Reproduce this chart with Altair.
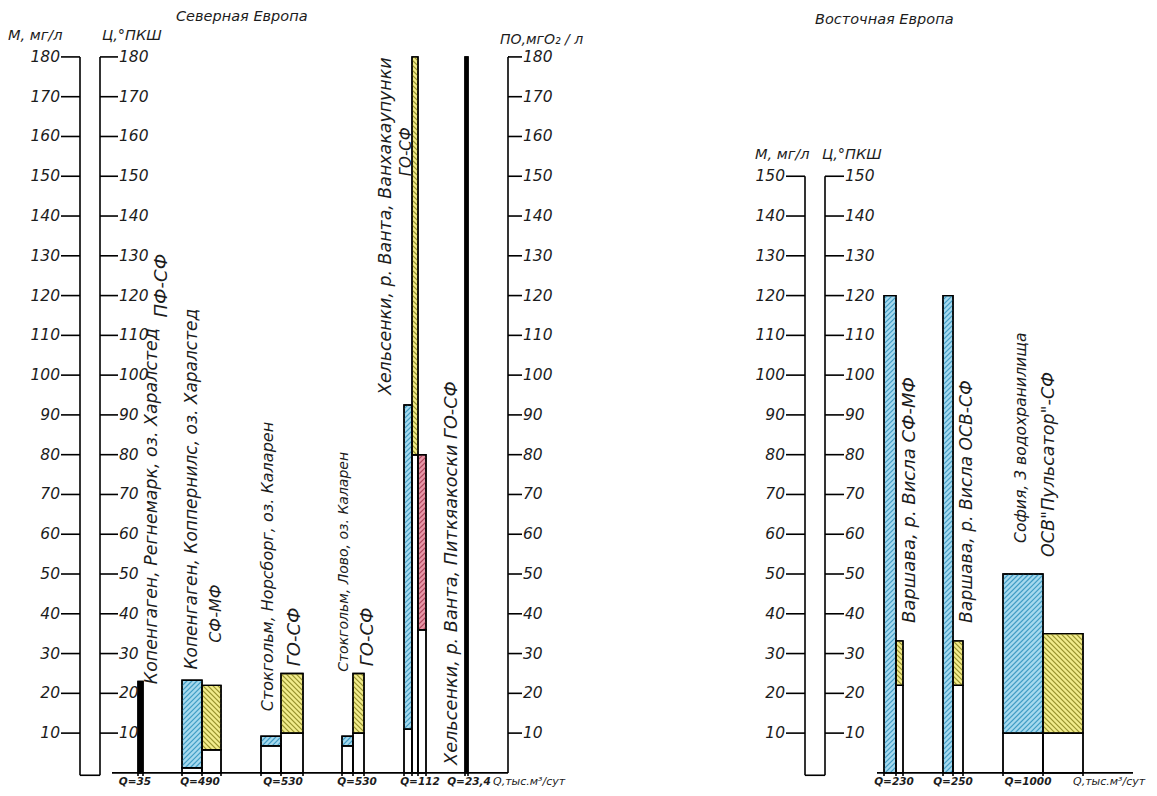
import altair as alt
import pandas as pd

# ---------------- data ----------------
stations = ["Копенгаген, Регнемарк", "Копенгаген, Коппернилс", "Стокгольм, Норсборг",
            "Стокгольм, Лово", "Хельсенки, Ванхакаупунки", "Хельсенки, Питкяакоски",
            "Варшава, СФ-МФ", "Варшава, ОСВ-СФ", "София"]
q_labels = ["Q=35", "Q=490", "Q=530", "Q=530", "Q=112", "Q=23,4", "Q=230", "Q=250", "Q=1000"]
# М, мг/л (blue hatched)
m_low = [None, 1.3, 6.8, 6.8, 11.0, None, 0.0, 0.0, 10.0]
m_high = [None, 23.3, 9.2, 9.2, 92.5, None, 120.0, 120.0, 50.0]
# Ц, °ПКШ (yellow hatched)
c_low = [None, 5.8, 10.0, 10.0, 80.0, None, 22.0, 22.0, 10.0]
c_high = [None, 22.0, 25.0, 25.0, 180.0, None, 33.2, 33.2, 35.0]
# ПО, мгО2/л (red hatched)
po_low = [None, None, None, None, 36.0, None, None, None, None]
po_high = [None, None, None, None, 80.0, None, None, None, None]
# single black columns
single_high = [23.0, None, None, None, None, 180.0, None, None, None]

label_lines = ["Копенгаген, Регнемарк, оз. Харалстед", "ПФ-СФ",
               "Копенгаген, Коппернилс, оз. Харалстед", "СФ-МФ",
               "Стокгольм, Норсборг, оз. Каларен", "ГО-СФ",
               "Стокгольм, Лово, оз. Каларен", "ГО-СФ",
               "Хельсенки, р. Ванта, Ванхакаупунки", "ГО-СФ",
               "Хельсенки, р. Ванта, Питкяакоски  ГО-СФ",
               "Варшава, р. Висла СФ-МФ", "Варшава, р. Висла ОСВ-СФ",
               "София, 3 водохранилища", "ОСВ\"Пульсатор\"-СФ"]

left_ticks = list(range(10, 190, 10))
right_ticks = list(range(10, 160, 10))
panel_titles = ["Северная Европа", "Восточная Европа"]
axis_titles = ["М, мг/л", "Ц,°ПКШ", "ПО,мгО₂ / л", "М, мг/л", "Ц,°ПКШ"]
q_unit = "Q,тыс.м³/сут"

# ---------------- layout (positions / styles only) ----------------
W, H = 1141, 780
XDOM = [8, 8 + W]
YDOM = [-3.8, 192.3]
K = H / (YDOM[1] - YDOM[0])  # px per unit of y
FONT = "DejaVu Sans"
BLUE, BLUE_H = "#a6d9ee", "#3f9cc4"
YEL, YEL_H = "#f1ec8c", "#97912c"
RED, RED_H = "#e796a6", "#b0445c"

col_m = [None, (182, 202), (261, 281), (342, 353), (404, 412), None, (884, 896), (943, 953), (1003, 1043)]
col_c = [None, (202, 221), (281, 303), (353, 364), (412, 418), None, (896, 903), (953, 963), (1043, 1083)]
col_po = [None, None, None, None, (418, 426), None, None, None, None]
col_single = [(138, 143), None, None, None, None, (465, 468), None, None, None]
q_x = [135, 200, 283, 357, 420, 469, 894, 953, 1028]
label_pos = [(152, 22.3, 17.4), (162, 114.5, 18), (192, 26.0, 17), (216, 32.7, 16),
             (268, 15.5, 16), (295, 26.8, 18), (344, 25.4, 14), (368, 26.8, 18),
             (386, 95.0, 17.4), (406, 150.0, 15), (452, 2.0, 17.7), (910, 37.7, 18),
             (967, 37.7, 17.2), (1021, 57.8, 15.6), (1049, 54.3, 17.5)]
Q_Y = -3.5  # bottom edge of the Q labels


def X(f):
    return alt.X(f"{f}:Q", scale=alt.Scale(domain=XDOM, nice=False, zero=False), axis=None)


def Y(f):
    return alt.Y(f"{f}:Q", scale=alt.Scale(domain=YDOM, nice=False, zero=False), axis=None)


# ---------------- bars ----------------
rects, hatches = [], []


def hatch(x1, x2, v1, v2, kind, direction, step=5.0):
    Y1, Y2 = v1 * K, v2 * K
    out = []
    if direction == "/":
        c = (int((Y1 - x2) // step)) * step
        while c <= Y2 - x1:
            xa, xb = max(x1, Y1 - c), min(x2, Y2 - c)
            if xb > xa:
                out.append(dict(x=xa, y=(xa + c) / K, x2=xb, y2=(xb + c) / K, kind=kind))
            c += step
    else:
        c = (int((Y1 + x1) // step)) * step
        while c <= Y2 + x2:
            xa, xb = max(x1, c - Y2), min(x2, c - Y1)
            if xb > xa:
                out.append(dict(x=xa, y=(c - xa) / K, x2=xb, y2=(c - xb) / K, kind=kind))
            c += step
    return out


for i in range(len(stations)):
    for lows, highs, cols, kind, d in [(m_low, m_high, col_m, "M", "/"),
                                        (c_low, c_high, col_c, "C", "\\"),
                                        (po_low, po_high, col_po, "PO", "/")]:
        if highs[i] is None:
            continue
        x1, x2 = cols[i]
        if lows[i] > 0:
            rects.append(dict(x=x1, x2=x2, y=0, y2=lows[i], kind="W"))
        rects.append(dict(x=x1, x2=x2, y=lows[i], y2=highs[i], kind=kind))
        hatches += hatch(x1, x2, lows[i], highs[i], kind + "h", d)
    if single_high[i] is not None:
        x1, x2 = col_single[i]
        rects.append(dict(x=x1, x2=x2, y=0, y2=single_high[i], kind="B"))

rect_df = pd.DataFrame(rects)
hatch_df = pd.DataFrame(hatches)
fill_scale = alt.Scale(domain=["W", "M", "C", "PO", "B"], range=["white", BLUE, YEL, RED, "black"])
hatch_scale = alt.Scale(domain=["Mh", "Ch", "POh"], range=[BLUE_H, YEL_H, RED_H])

fills = alt.Chart(rect_df).mark_rect(stroke="black", strokeWidth=1.4).encode(
    x=X("x"), x2="x2", y=Y("y"), y2="y2",
    fill=alt.Fill("kind:N", scale=fill_scale, legend=None))
hatch_layer = alt.Chart(hatch_df).mark_rule(strokeWidth=1.2).encode(
    x=X("x"), x2="x2", y=Y("y"), y2="y2",
    color=alt.Color("kind:N", scale=hatch_scale, legend=None))
outlines = alt.Chart(rect_df).mark_rect(fillOpacity=0, stroke="black", strokeWidth=1.4).encode(
    x=X("x"), x2="x2", y=Y("y"), y2="y2")

# ---------------- axis frames ----------------
segs = []
# left panel double scale
segs += [dict(x=80, x2=80, y=-0.6, y2=180), dict(x=100, x2=100, y=-0.6, y2=180),
         dict(x=80, x2=100, y=-0.6, y2=-0.6)]
segs += [dict(x=61, x2=80, y=v, y2=v) for v in left_ticks]
segs += [dict(x=100, x2=118, y=v, y2=v) for v in left_ticks]
# ПО scale
segs += [dict(x=508, x2=508, y=0, y2=180)]
segs += [dict(x=508, x2=522, y=v, y2=v) for v in left_ticks]
# right panel double scale
segs += [dict(x=805, x2=805, y=-0.6, y2=150), dict(x=825, x2=825, y=-0.6, y2=150),
         dict(x=805, x2=825, y=-0.6, y2=-0.6)]
segs += [dict(x=786, x2=805, y=v, y2=v) for v in right_ticks]
segs += [dict(x=825, x2=844, y=v, y2=v) for v in right_ticks]
# base lines
segs += [dict(x=112, x2=508, y=0, y2=0), dict(x=877, x2=1133, y=0, y2=0)]
# small ticks at column edges
edges = set()
for cols in (col_m, col_c, col_po, col_single):
    for c in cols:
        if c:
            edges.update(c)
segs += [dict(x=e, x2=e, y=0, y2=-0.8) for e in sorted(edges)]
seg_df = pd.DataFrame(segs)
frame = alt.Chart(seg_df).mark_rule(color="black", strokeWidth=1.6).encode(
    x=X("x"), x2="x2", y=Y("y"), y2="y2")


# ---------------- texts ----------------
def text_layer(rows, **kw):
    df = pd.DataFrame(rows, columns=["t", "x", "y", "fs"])
    return alt.Chart(df).mark_text(font=FONT, fontStyle="italic", color="#1c1c1c", **kw).encode(
        x=X("x"), y=Y("y"), text="t:N", size=alt.Size("fs:Q", scale=None))


TFS = 15.5
tick_r = [(str(v), 60, v, TFS) for v in left_ticks] + [(str(v), 785, v, TFS) for v in right_ticks]
tick_l = [(str(v), 119, v, TFS) for v in left_ticks] + [(str(v), 523, v, TFS) for v in left_ticks] + \
         [(str(v), 845, v, TFS) for v in right_ticks]
titles_l = [(panel_titles[0], 176, 190.0, 14.5), (panel_titles[1], 815, 189.2, 14.5),
            (axis_titles[0], 8, 185.3, 14.5), (axis_titles[1], 102, 185.3, 14.5),
            (axis_titles[2], 500, 184.3, 14), (axis_titles[3], 755, 155.4, 14.5),
            (axis_titles[4], 822, 155.4, 14.5)]
unit_rows = [(q_unit, 493, Q_Y, 11), (q_unit, 1073, Q_Y, 11)]
q_rows = [(q, x, Q_Y, 10.5) for q, x in zip(q_labels, q_x)]
rot_rows = [(t, p[0], p[1], p[2]) for t, p in zip(label_lines, label_pos)]

texts = [
    text_layer(tick_r, align="right", baseline="middle"),
    text_layer(tick_l, align="left", baseline="middle"),
    text_layer(titles_l, align="left", baseline="middle"),
    text_layer(unit_rows, align="left", baseline="bottom"),
    text_layer(q_rows, align="center", baseline="bottom", fontWeight="bold"),
    text_layer(rot_rows, align="left", baseline="middle", angle=270),
]

chart = alt.layer(fills, hatch_layer, outlines, frame, *texts).properties(
    width=W, height=H, padding=0, autosize="none", background="white"
).configure_view(stroke=None)

chart.save("out.html", embed_options={"renderer": "svg", "actions": False})
